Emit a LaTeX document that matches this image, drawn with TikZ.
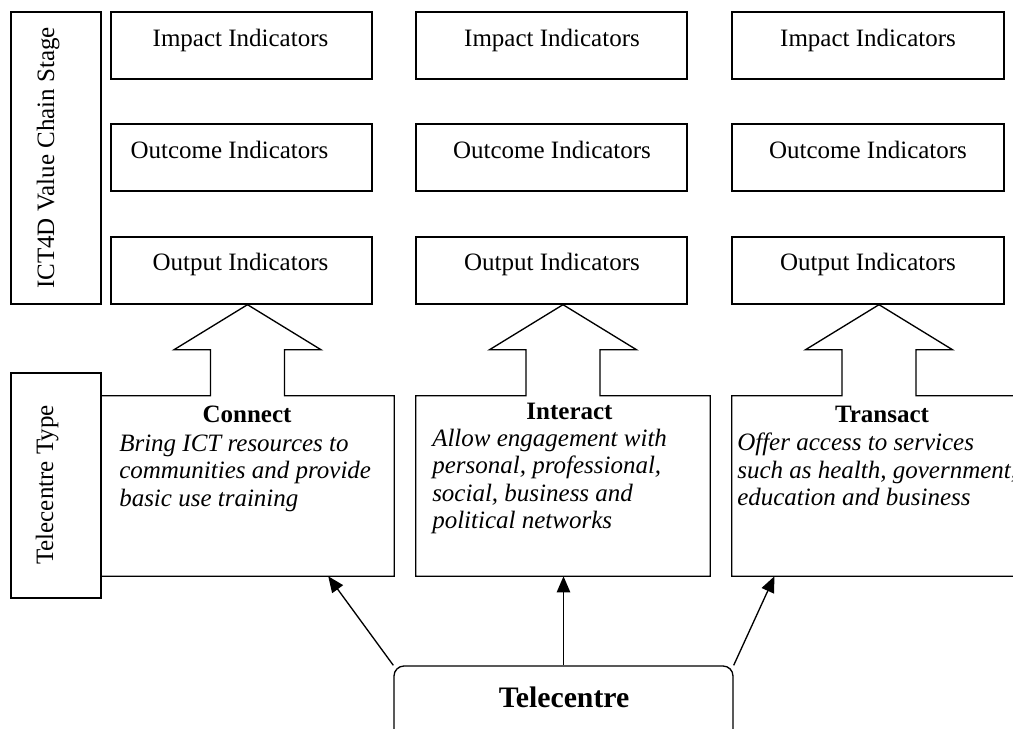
\documentclass[tikz,border=0pt]{standalone}
\usepackage{fontspec}
\setmainfont{Liberation Serif}
\usetikzlibrary{calc,fit,arrows.meta}
\begin{document}
\begin{tikzpicture}[x=0.75pt,y=-0.75pt,
  box/.style={draw,line width=1pt,inner sep=0pt},
  noframe/.style={inner sep=0pt},
  txt/.style={inner sep=0pt,font=\fontsize{18.75pt}{21pt}\selectfont},
  % multi-line body text: the base anchor sits on the last line
  body/.style={inner sep=0pt,align=left,anchor=base west,
    font=\fontsize{18.75pt}{20.6pt}\selectfont\itshape},
  title/.style={inner sep=0pt,anchor=base,
    font=\fontsize{18.75pt}{21pt}\selectfont\bfseries},
  link/.style={line width=1pt,-{Triangle[length=12pt,width=10pt]}},
  outline/.style={line width=1pt,line join=miter}
]
\useasboundingbox (0,0) rectangle (1013,728);
\clip (0,0) rectangle (1013,728);

% side captions
\node[box,fit={(11,12) (101,304)}] (stage) {};
\node[txt,rotate=90,anchor=base] (stageT) at (54,158) {ICT4D Value Chain Stage};
\node[box,fit={(11,373) (101,598)}] (ttype) {};
\node[txt,rotate=90,anchor=base] (ttypeT) at (53,485) {Telecentre Type};

% indicator boxes, three columns
\node[box,fit={(111,12) (372,79)}] (imp1) {};
\node[box,fit={(111,124) (372,191)}] (oc1) {};
\node[box,fit={(111,237) (372,304)}] (out1) {};
\node[box,fit={(416,12) (687,79)}] (imp2) {};
\node[box,fit={(416,124) (687,191)}] (oc2) {};
\node[box,fit={(416,237) (687,304)}] (out2) {};
\node[box,fit={(732,12) (1004,79)}] (imp3) {};
\node[box,fit={(732,124) (1004,191)}] (oc3) {};
\node[box,fit={(732,237) (1004,304)}] (out3) {};

\node[txt,anchor=base] (imp1T) at (240.5,46) {Impact Indicators};
\node[txt,anchor=base] (oc1T) at (229.5,158) {Outcome Indicators};
\node[txt,anchor=base] (out1T) at (240.5,270) {Output Indicators};
\node[txt,anchor=base] (imp2T) at (552,46) {Impact Indicators};
\node[txt,anchor=base] (oc2T) at (552,158) {Outcome Indicators};
\node[txt,anchor=base] (out2T) at (552,270) {Output Indicators};
\node[txt,anchor=base] (imp3T) at (868,46) {Impact Indicators};
\node[txt,anchor=base] (oc3T) at (868,158) {Outcome Indicators};
\node[txt,anchor=base] (out3T) at (868,270) {Output Indicators};

% telecentre type boxes
\node[noframe,fit={(101,396) (394,576)}] (conn) {};
\node[noframe,fit={(416,396) (710,576)}] (inter) {};
\node[noframe,fit={(732,396) (1026,576)}] (trans) {};

% each type box merges with a block arrow pointing up to its output box
\newcommand\typeshape[2]{%
  \draw[outline] (#1.south west) -- (#1.north west)
    -- ($(#1.north)+(-37,0)$) -- ($(#1.north)+(-37,-46)$)
    -- ($(#1.north)+(-73.5,-46)$) -- (#1.north |- #2.south)
    -- ($(#1.north)+(73.5,-46)$) -- ($(#1.north)+(37,-46)$)
    -- ($(#1.north)+(37,0)$) -- (#1.north east)
    -- (#1.south east) -- cycle;}
\typeshape{conn}{out1}
\typeshape{inter}{out2}
\typeshape{trans}{out3}

\node[title] (connH) at (247,422) {Connect};
\node[body] (connB) at (119,506) {Bring ICT resources to\\communities and provide\\basic use training};
\node[title] (interH) at (569.5,419) {Interact};
\node[body] (interB) at (432,528.5) {Allow engagement with\\personal, professional,\\social, business and\\political networks};
\node[title] (transH) at (882,422) {Transact};
\node[body] (transB) at (737,505.5) {Offer access to services\\such as health, government,\\education and business};

% telecentre
\node[draw,line width=1pt,rounded corners=7.5pt,inner sep=0pt,fit={(394,666) (733,748)}] (tel) {};
\node[inner sep=0pt,anchor=base,font=\fontsize{22.3pt}{26pt}\selectfont\bfseries] (telT) at (564,707) {Telecentre};

\draw[link] (tel.north west) -- ($(conn.south west)!0.775!(conn.south east)$);
\draw[link] (tel.north) -- (tel.north |- inter.south);
\draw[link] (tel.north east) -- ($(trans.south west)!0.145!(trans.south east)$);
\end{tikzpicture}
\end{document}
